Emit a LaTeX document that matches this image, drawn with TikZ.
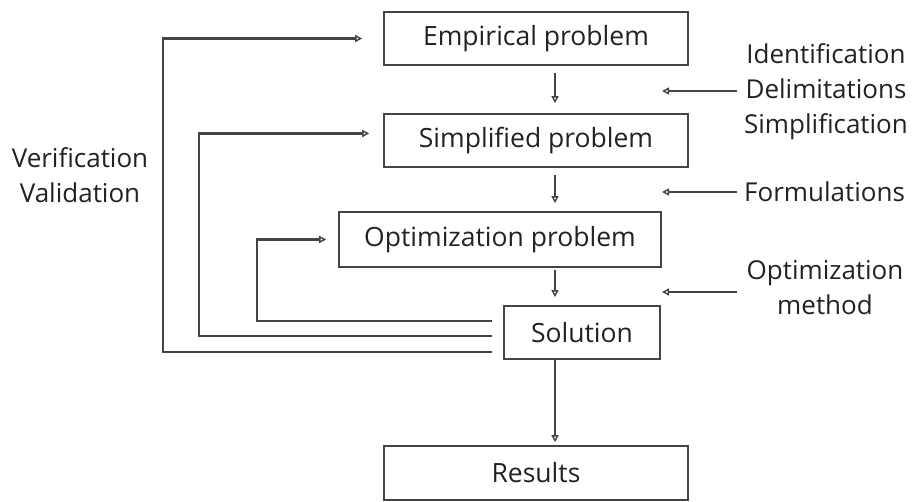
\documentclass[tikz,border=0pt]{standalone}
\usepackage{fontspec}
\setmainfont{Open Sans}
\usetikzlibrary{arrows.meta,calc}
\definecolor{ln}{HTML}{444444}
\definecolor{tx}{HTML}{222222}
\begin{document}
\begin{tikzpicture}[x=1pt,y=-1pt,
  box/.style={draw=ln,line width=1.6pt,minimum height=53pt,inner sep=0pt,text=tx,font=\fontsize{26.5}{30}\selectfont},
  arr/.style={draw=ln,line width=2.3pt,-{Triangle[open,length=7pt,width=7pt,line width=1.4pt]}},
  lbl/.style={text=tx,font=\fontsize{26}{35}\selectfont,align=center,inner sep=0pt}]
\useasboundingbox (0,0) rectangle (912,502);
\node[box,minimum width=304pt] (emp) at (536,38.5) {Empirical problem};
\node[box,minimum width=304pt] (simp) at (536,140.5) {Simplified problem};
\node[box,minimum width=322pt,minimum height=55pt] (opt) at (500,239.5) {Optimization problem};
\node[box,minimum width=156pt] (sol) at (582,332.5) {Solution};
\node[box,minimum width=304pt,minimum height=54pt] (res) at (536,473) {Results};
\coordinate (cx) at (555,0);
% down arrows
\draw[arr] ($(emp.south -| cx)+(0,7)$) -- ($(simp.north -| cx)+(0,-10)$);
\draw[arr] ($(simp.south -| cx)+(0,7)$) -- ($(opt.north -| cx)+(0,-8)$);
\draw[arr] ($(opt.south -| cx)+(0,2)$) -- ($(sol.north -| cx)+(0,-8)$);
\draw[arr] (sol.south -| cx) -- ($(res.north -| cx)+(0,-3)$);
% feedback
\coordinate (f1) at ($(sol.west)+(-11,-11.5)$);
\coordinate (f2) at ($(sol.west)+(-11,3.5)$);
\coordinate (f3) at ($(sol.west)+(-11,19.5)$);
\coordinate (c1) at (257,0);
\coordinate (c2) at (199,0);
\coordinate (c3) at (163,0);
\draw[arr,shorten >=12pt] (f1) -- (f1 -| c1) |- (opt.west);
\draw[arr,shorten >=14pt] (f2) -- (f2 -| c2) |- ([yshift=7pt]simp.west);
\draw[arr,shorten >=21pt] (f3) -- (f3 -| c3) |- (emp.west);
% right labels
\node[lbl] (l1) at (826,92) {Identification\\Delimitations\\Simplification};
\node[lbl,anchor=west] (l2) at (744,192) {Formulations};
\node[lbl] (l3) at (825,288) {Optimization\\method};
\coordinate (s) at (737,0);
\coordinate (t1) at (662,91);
\coordinate (t2) at (662,192);
\coordinate (t3) at (662,292);
\draw[arr] (t1 -| s) -- (t1);
\draw[arr] (t2 -| s) -- (t2);
\draw[arr] (t3 -| s) -- (t3);
\node[lbl] (vv) at (80,175) {Verification\\Validation};
\end{tikzpicture}
\end{document}
